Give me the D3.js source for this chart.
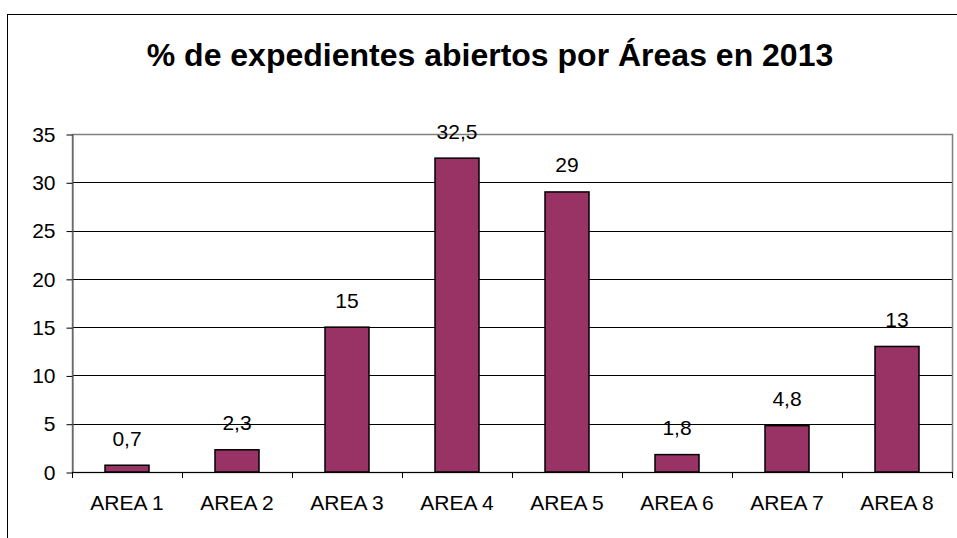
<!DOCTYPE html>
<html>
<head>
<meta charset="utf-8">
<script src="https://cdn.jsdelivr.net/npm/d3@7"></script>
<style>
  html, body { margin: 0; padding: 0; background: #fff; }
  svg { display: block; font-family: "Liberation Sans", Arial, sans-serif; }
</style>
</head>
<body>
<div id="chart"></div>
<script>
// data
const areas = ["AREA 1", "AREA 2", "AREA 3", "AREA 4", "AREA 5", "AREA 6", "AREA 7", "AREA 8"];
const percents = [0.7, 2.3, 15, 32.5, 29, 1.8, 4.8, 13];
const yTicks = [0, 5, 10, 15, 20, 25, 30, 35];
const title = "% de expedientes abiertos por Áreas en 2013";

const svgWidth = 957;
const svgHeight = 538;
const plot = {left: 72, top: 134, right: 952, bottom: 472};

const svg = d3.select("#chart")
  .append("svg")
  .attr("width", svgWidth)
  .attr("height", svgHeight);

// outer chart frame (only left and top edges are visible)
svg.append("rect")
  .attr("x", 7.5)
  .attr("y", 14.5)
  .attr("width", 1000)
  .attr("height", 600)
  .attr("fill", "none")
  .attr("stroke", "#000")
  .attr("stroke-width", 1);

svg.append("text")
  .attr("x", 490)
  .attr("y", 66)
  .attr("text-anchor", "middle")
  .attr("font-size", 32)
  .attr("font-weight", "bold")
  .text(title);

const xScale = d3.scaleBand()
  .domain(areas)
  .range([plot.left, plot.right])
  .padding(0);

const yScale = d3.scaleLinear()
  .domain([0, 35])
  .range([plot.bottom, plot.top]);

// gridlines
svg.append("g")
  .selectAll("line")
  .data(yTicks.filter(d => d > 0 && d < 35))
  .enter()
  .append("line")
  .attr("x1", plot.left)
  .attr("x2", plot.right)
  .attr("y1", d => Math.round(yScale(d)) + 0.5)
  .attr("y2", d => Math.round(yScale(d)) + 0.5)
  .attr("stroke", "#000");

// plot area border (gray)
svg.append("rect")
  .attr("x", plot.left + 0.5)
  .attr("y", plot.top + 0.5)
  .attr("width", plot.right - plot.left)
  .attr("height", plot.bottom - plot.top)
  .attr("fill", "none")
  .attr("stroke", "#808080")
  .attr("stroke-width", 1.5);

// y axis
const yAxis = d3.axisLeft(yScale)
  .tickValues(yTicks)
  .tickSize(6)
  .tickPadding(11)
  .tickSizeOuter(0);
const yAxisGroup = svg.append("g")
  .attr("transform", `translate(${plot.left + 0.5}, 0.5)`)
  .call(yAxis);
yAxisGroup.select(".domain").attr("stroke", "#555");
yAxisGroup.selectAll(".tick line").attr("stroke", "#000");
yAxisGroup.selectAll(".tick text")
  .attr("font-size", 21)
  .attr("font-family", "Liberation Sans, Arial, sans-serif")
  .attr("fill", "#000");

// bars
const barW = xScale.bandwidth() * 0.4;
svg.selectAll("rect.bar")
  .data(percents)
  .enter()
  .append("rect")
  .attr("class", "bar")
  .attr("x", (d, i) => xScale(areas[i]) + (xScale.bandwidth() - barW) / 2)
  .attr("y", d => yScale(d))
  .attr("width", barW)
  .attr("height", d => yScale(0) - yScale(d))
  .attr("fill", "#993366")
  .attr("stroke", "#000")
  .attr("stroke-width", 1.5);

// value labels
svg.selectAll("text.value")
  .data(percents)
  .enter()
  .append("text")
  .attr("class", "value")
  .attr("x", (d, i) => xScale(areas[i]) + xScale.bandwidth() / 2)
  .attr("y", d => yScale(d) - 19.5)
  .attr("text-anchor", "middle")
  .attr("font-size", 21)
  .text(d => String(d).replace(".", ","));

// x axis: baseline, boundary ticks, labels
svg.append("line")
  .attr("x1", plot.left)
  .attr("x2", plot.right)
  .attr("y1", plot.bottom + 0.5)
  .attr("y2", plot.bottom + 0.5)
  .attr("stroke", "#000");

const bounds = areas.map(a => xScale(a)).concat([plot.right]);
svg.append("g")
  .selectAll("line")
  .data(bounds)
  .enter()
  .append("line")
  .attr("x1", d => Math.round(d) + 0.5)
  .attr("x2", d => Math.round(d) + 0.5)
  .attr("y1", plot.bottom)
  .attr("y2", plot.bottom + 6)
  .attr("stroke", "#000");

svg.append("g")
  .selectAll("text")
  .data(areas)
  .enter()
  .append("text")
  .attr("x", d => xScale(d) + xScale.bandwidth() / 2)
  .attr("y", 510)
  .attr("text-anchor", "middle")
  .attr("font-size", 21)
  .text(d => d);
</script>
</body>
</html>
